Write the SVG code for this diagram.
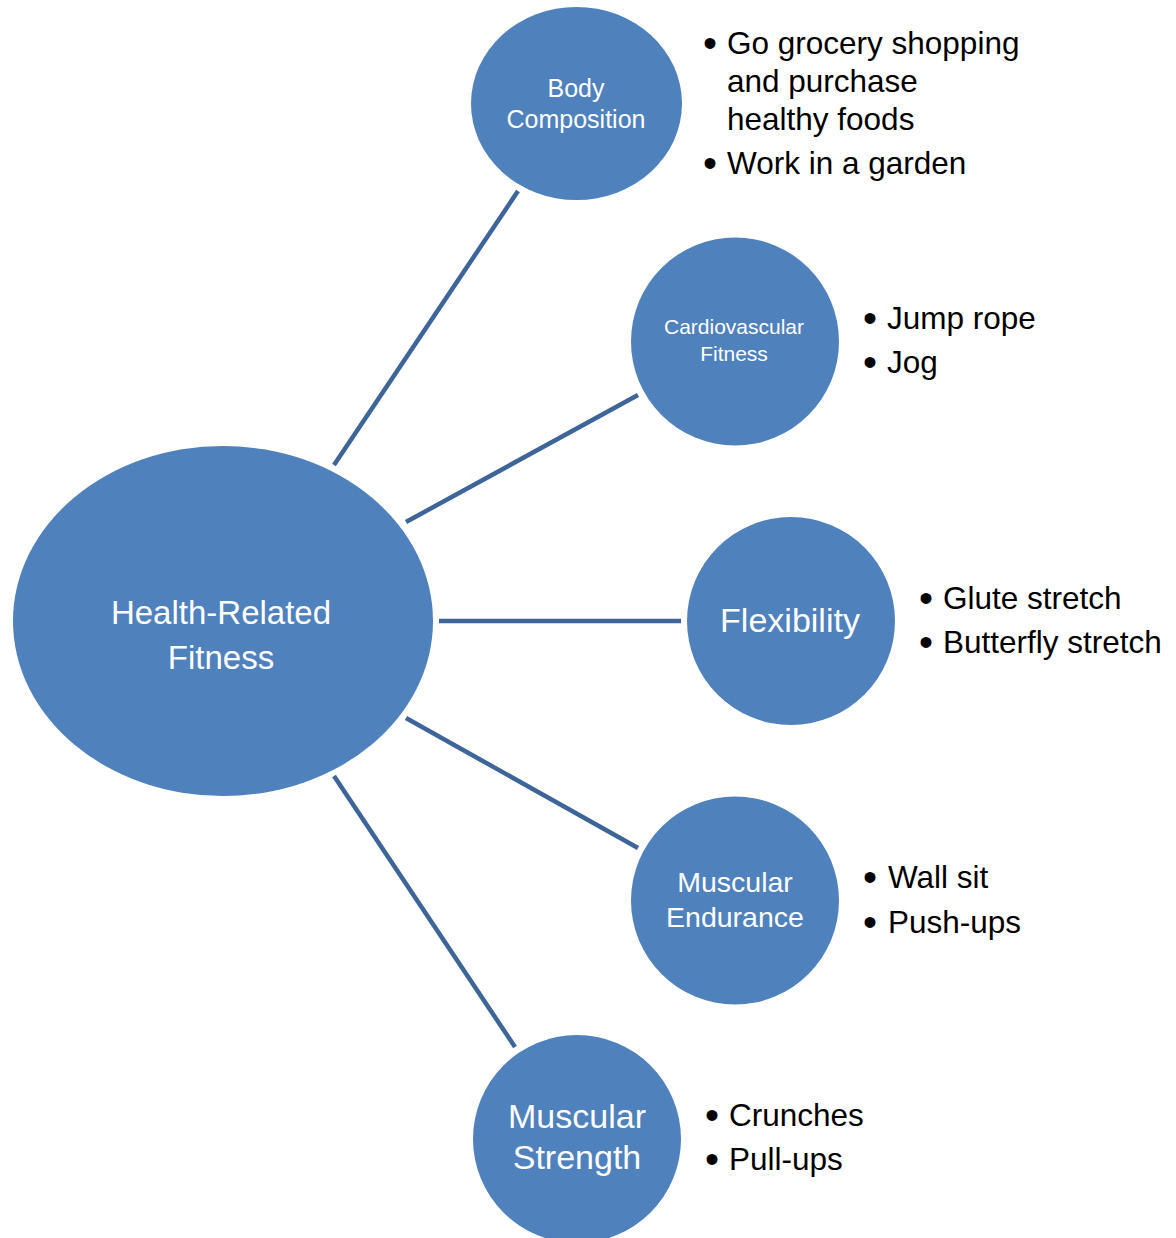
<svg xmlns="http://www.w3.org/2000/svg" width="1176" height="1238" viewBox="0 0 1176 1238">
<style>
.node{fill:#4f81bd}
.lbl{fill:#ffffff;font-family:"Liberation Sans",Arial,sans-serif;text-anchor:middle}
.bul{fill:#000000;font-family:"Liberation Sans",Arial,sans-serif;font-size:31.5px}
.dot{font-size:40px}
.conn line{stroke:#3d6599;stroke-width:4.5}
</style>
<rect width="1176" height="1238" fill="#ffffff"/>
<g id="connectors" class="conn">
<line x1="334" y1="465" x2="518" y2="191"/>
<line x1="406" y1="522" x2="638" y2="395"/>
<line x1="439" y1="621" x2="681" y2="621"/>
<line x1="406" y1="718" x2="638" y2="848"/>
<line x1="334" y1="776" x2="515" y2="1047"/>
</g>
<g id="health-related-fitness">
<ellipse class="node" cx="223" cy="621" rx="210" ry="175"/>
<text class="lbl" x="221" y="624" font-size="33">Health-Related</text>
<text class="lbl" x="221" y="669" font-size="33">Fitness</text>
</g>
<g id="body-composition">
<ellipse class="node" cx="576.5" cy="103.5" rx="105.5" ry="96.5"/>
<text class="lbl" x="576" y="97" font-size="25">Body</text>
<text class="lbl" x="576" y="128" font-size="25">Composition</text>
<g class="bul"><text class="dot" x="703" y="57">•</text><text x="727" y="54">Go grocery shopping</text><text x="727" y="92">and purchase</text><text x="727" y="130">healthy foods</text><text class="dot" x="703" y="177">•</text><text x="727" y="174">Work in a garden</text></g>
</g>
<g id="cardiovascular-fitness">
<circle class="node" cx="735" cy="341.5" r="104"/>
<text class="lbl" x="734" y="334" font-size="21">Cardiovascular</text>
<text class="lbl" x="734" y="361" font-size="21">Fitness</text>
<g class="bul"><text class="dot" x="863" y="332">•</text><text x="887" y="329">Jump rope</text><text class="dot" x="863" y="376">•</text><text x="887" y="373">Jog</text></g>
</g>
<g id="flexibility">
<circle class="node" cx="791" cy="621" r="104"/>
<text class="lbl" x="790" y="632" font-size="34">Flexibility</text>
<g class="bul"><text class="dot" x="919" y="612">•</text><text x="943" y="609">Glute stretch</text><text class="dot" x="919" y="656">•</text><text x="943" y="653">Butterfly stretch</text></g>
</g>
<g id="muscular-endurance">
<circle class="node" cx="735" cy="900.5" r="104"/>
<text class="lbl" x="735" y="892" font-size="28.5">Muscular</text>
<text class="lbl" x="735" y="927" font-size="28.5">Endurance</text>
<g class="bul"><text class="dot" x="863" y="891">•</text><text x="888" y="888">Wall sit</text><text class="dot" x="863" y="936">•</text><text x="888" y="933">Push-ups</text></g>
</g>
<g id="muscular-strength">
<circle class="node" cx="577" cy="1139" r="104"/>
<text class="lbl" x="577" y="1128" font-size="34">Muscular</text>
<text class="lbl" x="577" y="1169" font-size="34">Strength</text>
<g class="bul"><text class="dot" x="705" y="1129">•</text><text x="729" y="1126">Crunches</text><text class="dot" x="705" y="1173">•</text><text x="729" y="1170">Pull-ups</text></g>
</g>
</svg>
